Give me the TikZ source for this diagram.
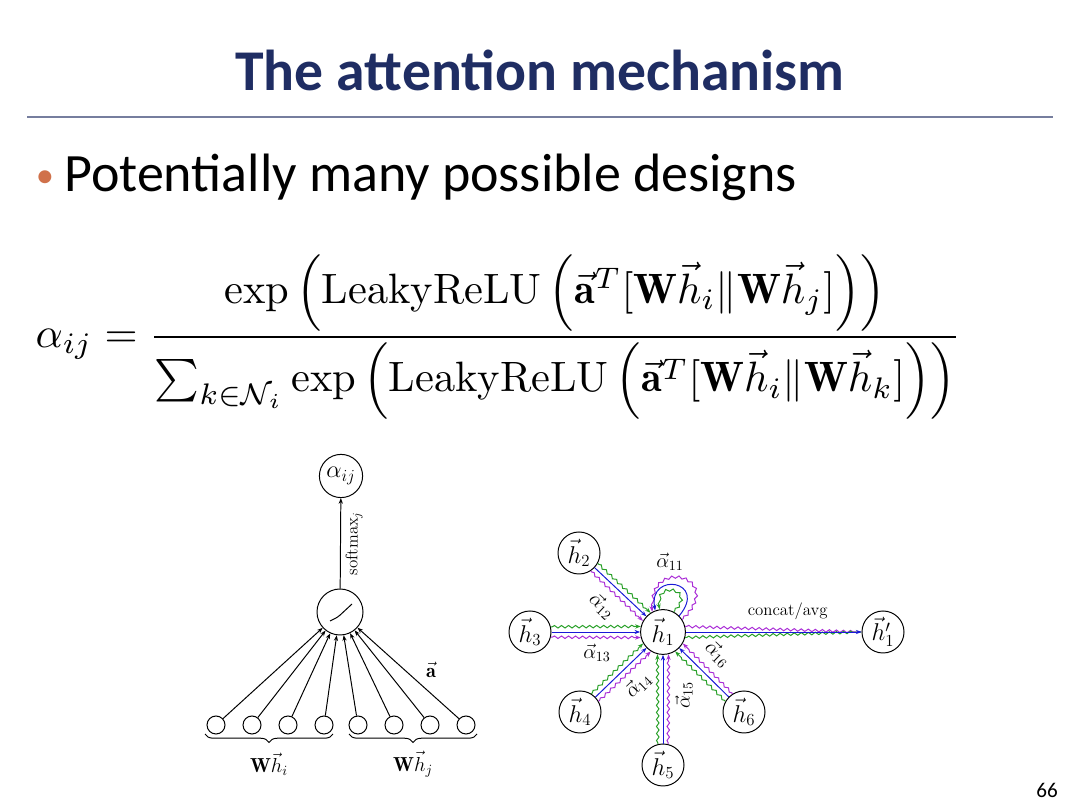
\documentclass[tikz,border=0pt]{standalone}
\usepackage{amsmath}
\usepackage{amsfonts}
\usepackage{amssymb}
\usepackage{fontspec}
\newfontfamily\calibri{Carlito}
\usepackage{tikz}
\usetikzlibrary{arrows.meta, decorations.pathmorphing, decorations.pathreplacing}
\definecolor{titleblue}{RGB}{31,45,99}
\definecolor{rulegray}{RGB}{118,126,158}
\definecolor{dotorange}{RGB}{208,113,74}
\definecolor{edgeblue}{RGB}{25,25,215}
\definecolor{edgegreen}{RGB}{40,160,40}
\definecolor{edgepurple}{RGB}{170,45,215}

\begin{document}
\begin{tikzpicture}[x = 0.025cm, y = 0.025cm, line width = 0.7pt,
                        >={Stealth[length = 4pt, width = 3pt]},
                        unit/.style = {circle, draw, fill = white, minimum size = 0.45cm, inner sep = 0pt},
                        neuron/.style = {circle, draw, fill = white, minimum size = 1.1cm, inner sep = 0pt},
                        feat/.style = {circle, draw, fill = white, minimum size = 1.05cm, inner sep = 0pt, font = \LARGE},
                        blueedge/.style = {draw = edgeblue, ->},
                        wavy/.style = {->, decorate, decoration = {snake, amplitude = 0.9pt, segment length = 5pt, pre length = 1pt, post length = 4pt}},
                        greenedge/.style = {draw = edgegreen, wavy},
                        purpleedge/.style = {draw = edgepurple, wavy},
                        brace/.style = {decorate, decoration = {brace, mirror, amplitude = 6pt}}]
      \fill [white] (0, 0) rectangle (1080, 810);
      \useasboundingbox (0, 0) rectangle (1080, 810);

      % heading
      \node [anchor = base, text = titleblue, font = \calibri\bfseries\fontsize{41}{48}\selectfont] (title) at (540, 719){The attention mechanism};
      \draw [rulegray, line width = 1.4pt] (27, 693) -- (1053, 693);
      \node [anchor = base, text = dotorange, font = \calibri\fontsize{26}{30}\selectfont] (dot) at (45, 622){•};
      \node [anchor = base west, font = \calibri\fontsize{38.4}{44}\selectfont] (bullet) at (59, 618){Potentially many possible designs};
      \node [font = \calibri\fontsize{15}{18}\selectfont] (pagenum) at (1047, 20){66};

      % formula
      \node [anchor = west, scale = 3.02] (formula) at (20, 473){$\displaystyle
        \alpha_{ij} = \frac{\exp\left(\text{LeakyReLU}\left(\vec{\mathbf{a}}^T[\mathbf{W}\vec{h}_i\|\mathbf{W}\vec{h}_j]\right)\right)}
        {\sum_{k\in\mathcal{N}_i}\exp\left(\text{LeakyReLU}\left(\vec{\mathbf{a}}^T[\mathbf{W}\vec{h}_i\|\mathbf{W}\vec{h}_k]\right)\right)}$};

      % single attention head
      \node [neuron, minimum size = 1.08cm, font = \LARGE] (aij) at (341, 334){$\alpha_{ij}$};
      \node [neuron, minimum size = 1.15cm] (act) at (340, 198){};
      \draw [rounded corners = 2pt] ([shift = {(-10, -9)}]act.center) -- ([shift = {(-2, -5)}]act.center) -- ([shift = {(12, 8)}]act.center);
      \node [unit] (b1) at (216, 85){};
      \node [unit] (b2) at (252, 85){};
      \node [unit] (b3) at (288, 85){};
      \node [unit] (b4) at (324, 85){};
      \node [unit] (b5) at (358, 85){};
      \node [unit] (b6) at (394, 85){};
      \node [unit] (b7) at (430, 85){};
      \node [unit] (b8) at (466, 85){};
      \draw [->] (b1) -- (act);
      \draw [->] (b2) -- (act);
      \draw [->] (b3) -- (act);
      \draw [->] (b4) -- (act);
      \draw [->] (b5) -- (act);
      \draw [->] (b6) -- (act);
      \draw [->] (b7) -- (act);
      \draw [->] (b8) -- (act);
      \draw [->] (act) -- node [midway, below, sloped, font = \large] {softmax$_j$} (aij);
      \node [font = \Large] (avec) at (431, 140){$\vec{\mathbf{a}}$};
      \draw [brace] (205, 76) -- (333, 76);
      \draw [brace] (349, 76) -- (477, 76);
      \node [font = \Large] (whi) at (269, 46){$\mathbf{W}\vec{h}_i$};
      \node [font = \Large] (whj) at (413, 46){$\mathbf{W}\vec{h}_j$};

      % multi-head attention
      \node [feat, minimum size = 1.12cm] (h1) at (663, 178){$\vec{h}_1$};
      \node [feat] (h2) at (579, 257){$\vec{h}_2$};
      \node [feat] (h3) at (530, 178){$\vec{h}_3$};
      \node [feat] (h4) at (580, 98){$\vec{h}_4$};
      \node [feat] (h5) at (663, 45){$\vec{h}_5$};
      \node [feat] (h6) at (744, 98){$\vec{h}_6$};
      \node [feat] (h1p) at (883, 178){$\vec{h}'_1$};

      \draw [greenedge] (h2.-29) -- (h1.123);
      \draw [blueedge] (h2) -- (h1);
      \draw [purpleedge] (h2.-57) -- (h1.151);
      \draw [greenedge] (h3.14) -- (h1.166);
      \draw [blueedge] (h3) -- (h1);
      \draw [purpleedge] (h3.-14) -- (h1.194);
      \draw [greenedge] (h4.58) -- (h1.210);
      \draw [blueedge] (h4) -- (h1);
      \draw [purpleedge] (h4.30) -- (h1.238);
      \draw [greenedge] (h5.104) -- (h1.256);
      \draw [blueedge] (h5) -- (h1);
      \draw [purpleedge] (h5.76) -- (h1.284);
      \draw [greenedge] (h6.150) -- (h1.302);
      \draw [blueedge] (h6) -- (h1);
      \draw [purpleedge] (h6.122) -- (h1.330);

      \draw [purpleedge] (h1.33) .. controls +(45:62) and +(100:55) .. (h1.118);
      \draw [blueedge] (h1.45) .. controls +(50:46) and +(100:40) .. (h1.110);
      \draw [greenedge] (h1.62) .. controls +(45:32) and +(110:30) .. (h1.98);

      \draw [purpleedge, -] (h1.14) -- (h1p.west);
      \draw [greenedge, -] (h1.-14) -- (h1p.west);
      \draw [blueedge] (h1) -- node [midway, above = 5pt, xshift = 10pt, font = \large] {concat/avg} (h1p);

      \node [font = \Large] (a11) at (670, 248){$\vec{\alpha}_{11}$};
      \node [font = \Large, rotate = -43] (a12) at (602, 204){$\vec{\alpha}_{12}$};
      \node [font = \Large] (a13) at (597, 157){$\vec{\alpha}_{13}$};
      \node [font = \Large, rotate = 44] (a14) at (638, 125){$\vec{\alpha}_{14}$};
      \node [font = \Large, rotate = 90] (a15) at (684, 115){$\vec{\alpha}_{15}$};
      \node [font = \Large, rotate = -44] (a16) at (718, 156){$\vec{\alpha}_{16}$};
    \end{tikzpicture}
\end{document}
